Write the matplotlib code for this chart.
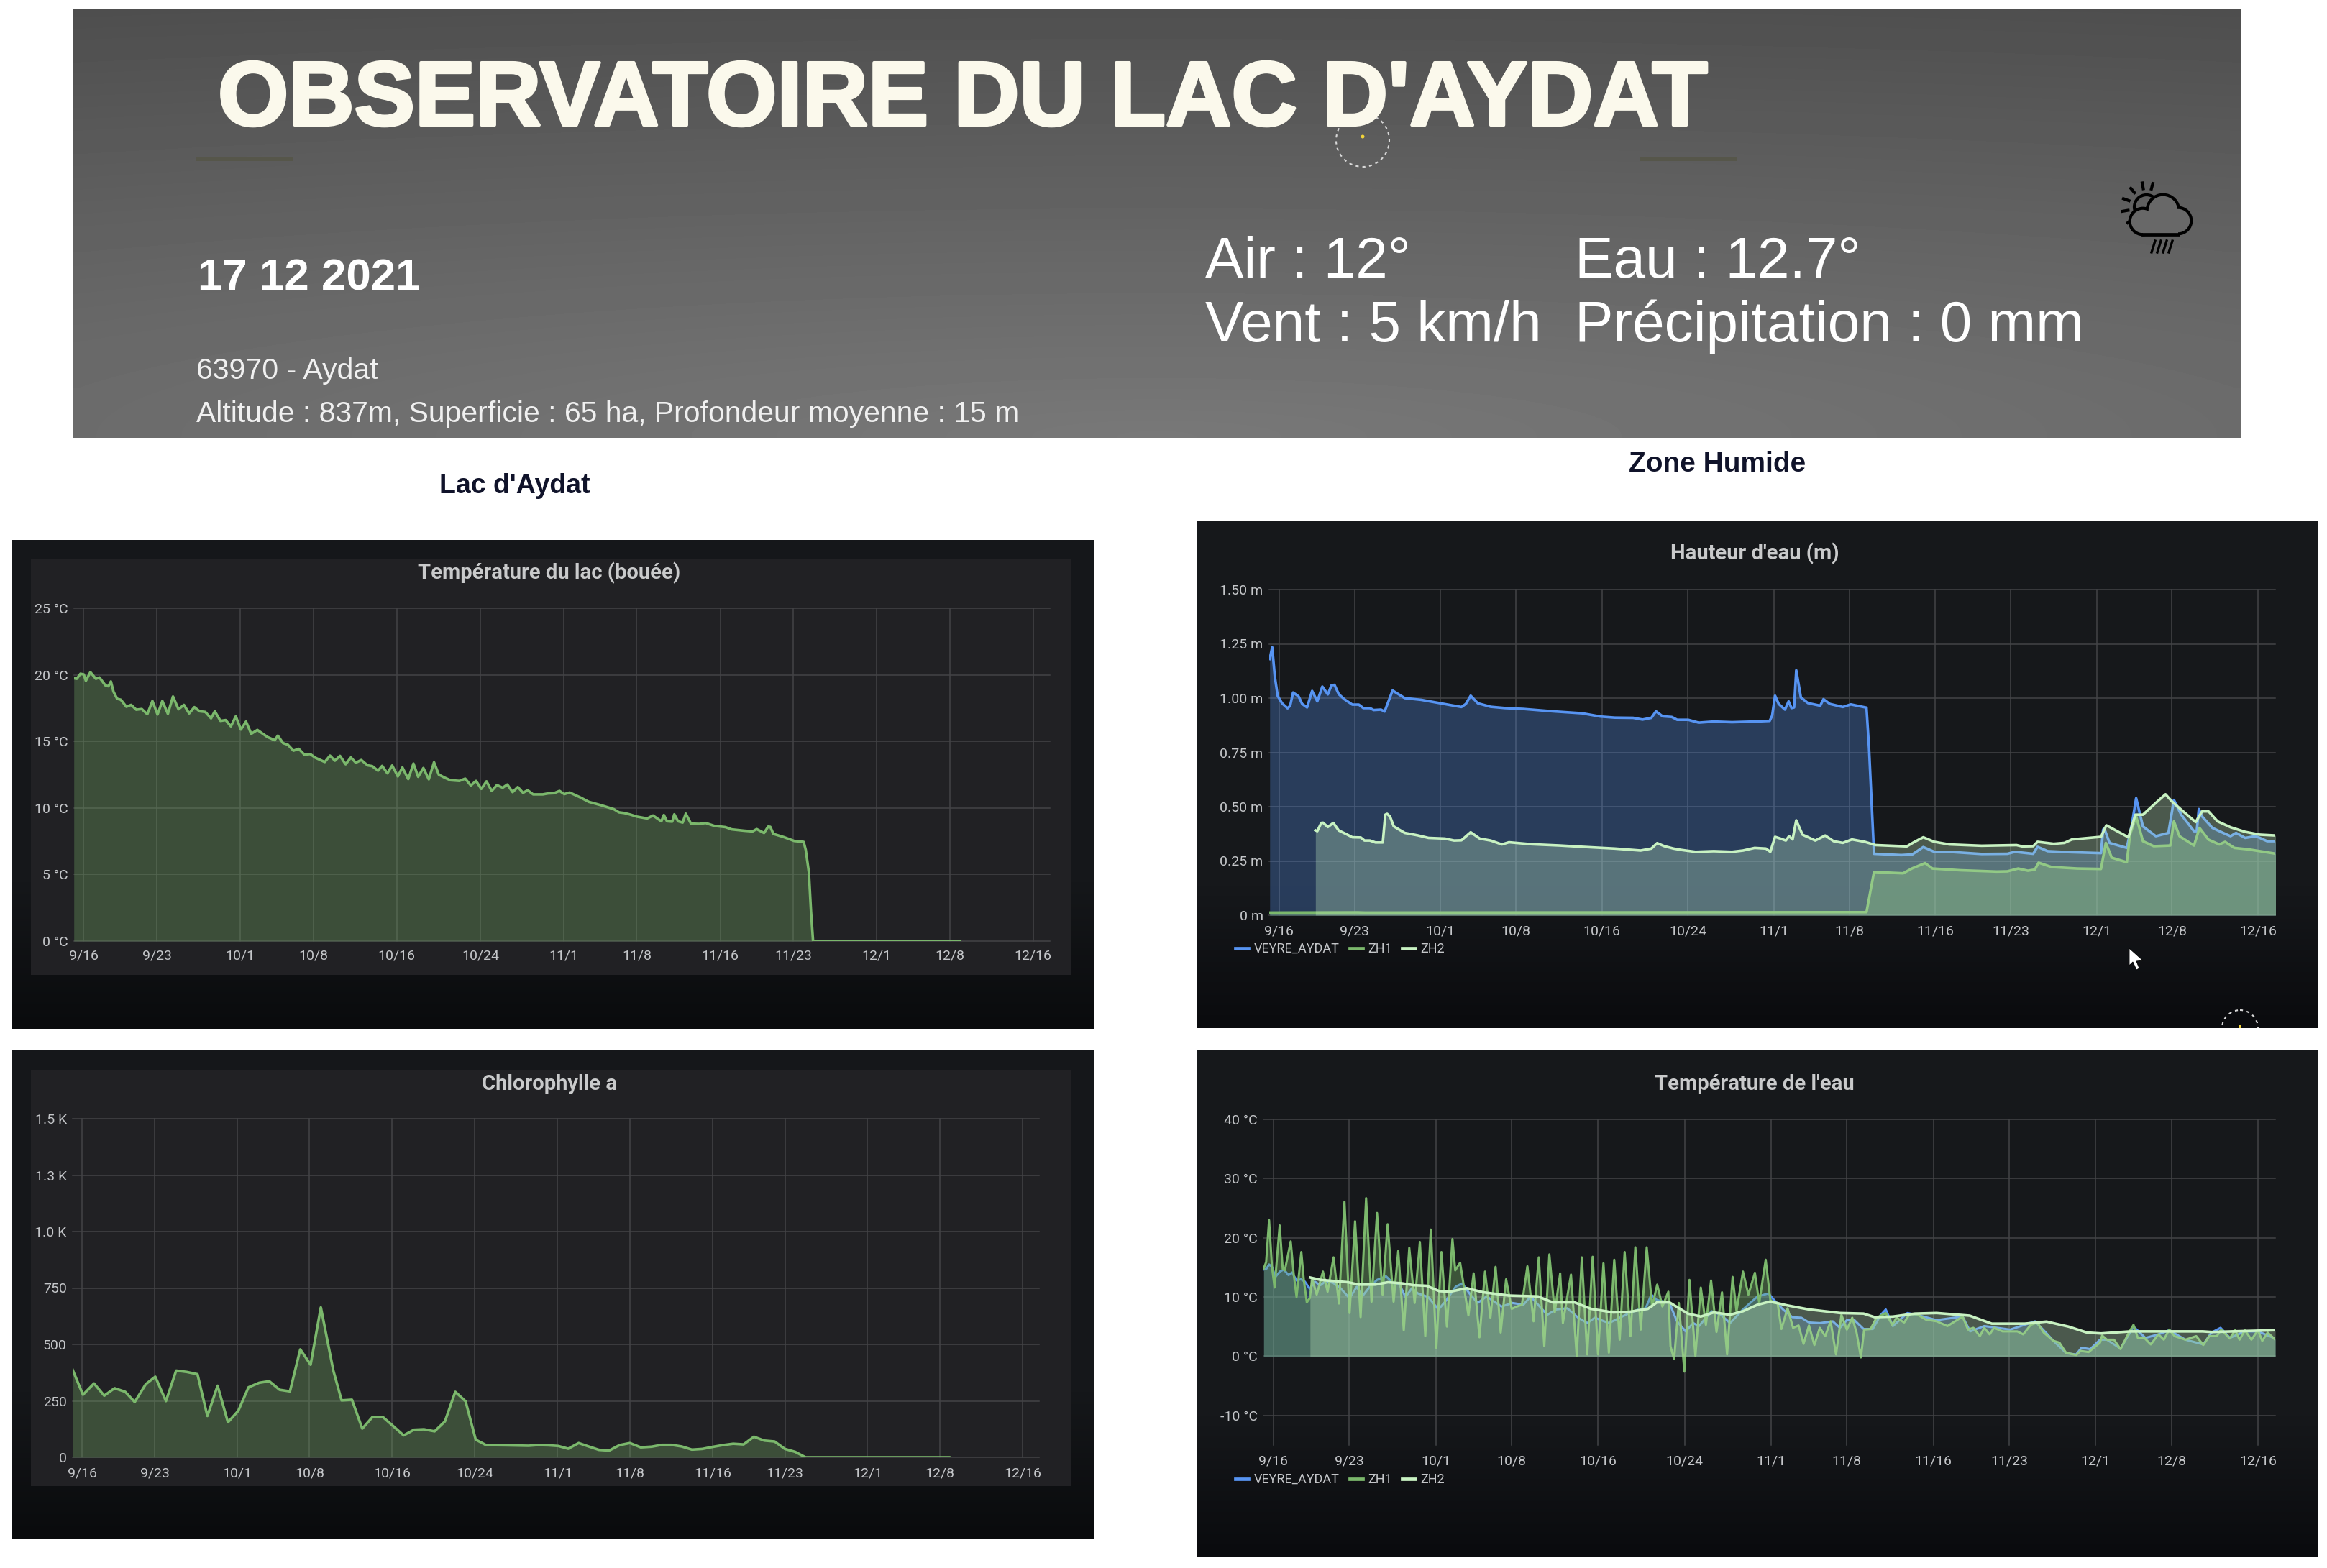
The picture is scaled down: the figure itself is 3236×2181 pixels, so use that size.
import numpy as np
import matplotlib
matplotlib.use("Agg")
import matplotlib.pyplot as plt
import matplotlib.patheffects as pe
from matplotlib.lines import Line2D
from matplotlib.patches import Circle, Polygon, Rectangle

W, H = 3236, 2181

BLUE = "#5794F2"
GREEN = "#7BB86C"
PALE = "#C8F2C2"
TICK = "#c4c6c9"
GRID = "#434447"

DATE_DAYS = [0, 7, 15, 22, 30, 38, 46, 53, 61, 68, 76, 83, 91]
DATE_LABELS = ["9/16", "9/23", "10/1", "10/8", "10/16", "10/24", "11/1", "11/8",
               "11/16", "11/23", "12/1", "12/8", "12/16"]

# days since 16 September
lake_days = [-0.95, -0.67, -0.32, 0, 0.2, 0.63, 1.16, 1.5, 2.08, 2.36, 2.6, 2.85, 3.2, 3.55, 4.08, 4.54,
             5.03, 5.56, 6.09, 6.58, 7.07, 7.53, 8.06, 8.55, 9.08, 9.6, 10.1, 10.6, 11.1, 11.65, 12.2,
             12.56, 13.1, 13.6, 14.1, 14.57, 15.06, 15.55, 16.05, 16.64, 17.6, 18.3, 18.6, 19.1, 19.56,
             20.1, 20.6, 21.15, 21.7, 22.2, 23.1, 23.6, 24.07, 24.56, 25.1, 25.6, 26.07, 26.6, 27.2,
             27.65, 28.2, 28.6, 29.1, 29.56, 30.1, 30.54, 31.1, 31.6, 32.05, 32.55, 33.07, 33.57, 34.03,
             34.6, 35.15, 36.0, 36.56, 37.1, 37.6, 38.1, 38.6, 39.1, 39.6, 40.15, 40.6, 41.1, 41.6, 42.1,
             42.55, 43.07, 44.0, 44.5, 45.07, 45.6, 46.06, 46.57, 47.57, 48.4, 49.6, 50.8, 51.3, 51.8,
             52.4, 53.0, 54.0, 54.56, 55, 55.36, 55.6, 55.9, 56.4, 56.6, 56.96, 57.4, 57.7, 58.2, 59,
             59.6, 60.45, 61.5, 62.1, 63.3, 64.1, 64.5, 65.2, 65.6, 65.8, 66.1, 67.1, 68.1, 69, 69.2,
             69.5, 69.7, 69.9, 84.0]
lake_temp = [19.74, 19.7, 20.08, 20.03, 19.55, 20.2, 19.7, 19.8, 19.2, 19.14, 19.5, 18.73, 18.2, 18.13, 17.6,
             17.74, 17.38, 17.43, 17.04, 18.03, 17.02, 18.03, 17.07, 18.37, 17.41, 17.74, 17.1, 17.57, 17.26,
             17.21, 16.73, 17.26, 16.54, 16.6, 16.13, 16.88, 15.89, 16.49, 15.57, 15.86, 15.33, 15.09, 15.43,
             14.87, 14.75, 14.3, 14.44, 14.0, 14.05, 13.77, 13.45, 13.93, 13.55, 13.91, 13.28, 13.79, 13.4,
             13.6, 13.2, 13.14, 12.8, 13.16, 12.6, 13.19, 12.37, 13.04, 12.17, 13.33, 12.34, 13.0, 12.15,
             13.43, 12.5, 12.27, 12.08, 12.03, 12.2, 11.69, 12.03, 11.43, 12.0, 11.28, 11.72, 11.52, 11.76,
             11.19, 11.57, 11.14, 11.33, 11.02, 11.02, 11.09, 11.11, 11.28, 11.04, 11.16, 10.8, 10.46, 10.2,
             9.91, 9.67, 9.62, 9.5, 9.35, 9.21, 9.43, 9.19, 9.0, 9.47, 9.0, 8.97, 9.52, 9.0, 8.9, 9.57, 8.82,
             8.8, 8.87, 8.65, 8.56, 8.39, 8.29, 8.24, 8.41, 8.12, 8.6, 8.58, 8.05, 7.81, 7.52, 7.45, 6.85,
             5.16, 2.27, 0, 0]

chl_days = [-0.96, 0.07, 1.14, 2.13, 3.13, 4.16, 5.08, 6.15, 7.07, 8.1, 9.09, 10.12, 11.15, 12.11, 13.1, 14.1,
            15.1, 16.09, 17.12, 18.1, 19.1, 20.1, 21.1, 22.1, 23.09, 24.3, 25.1, 26.1, 27.1, 28.1, 29.1, 30.1,
            31.1, 32.1, 33.07, 34.1, 35.1, 36.1, 37.1, 38.08, 39.08, 41, 43.2, 44.05, 45.1, 46.07, 47.03, 48.04,
            49, 50, 51, 52, 53, 54.05, 55.1, 56.07, 57, 58, 59, 60, 61, 62, 63, 64, 65, 66, 67, 68, 69, 70, 83.9]
chl_vals = [391, 277, 327, 273, 306, 290, 245, 324, 357, 249, 384, 378, 368, 183, 317, 155, 206, 310, 330, 337,
            299, 292, 478, 410, 664, 384, 252, 255, 127, 179, 178, 138, 97, 122, 124, 115, 159, 290, 248, 78, 54,
            53, 51, 54, 53, 50, 38, 63, 48, 33, 30, 54, 63, 44, 47, 55, 55, 48, 34, 37, 46, 54, 60, 57, 91, 74,
            70, 37, 24, 0, 0]

level_veyre_days = [-0.88, -0.65, -0.41, -0.14, 0.27, 0.78, 1.02, 1.29, 1.8, 2.14, 2.59, 3.06, 3.54, 4.01, 4.52,
                    4.86, 5.14, 5.54, 6.05, 6.8, 7.4, 7.82, 8.43, 8.78, 9.46, 9.8, 10.54, 11.67, 13.2, 14.56,
                    15.9, 16.94, 17.35, 17.8, 18.47, 19.66, 21.0, 22.7, 25.44, 28.16, 29.86, 31.2, 32.9, 33.78,
                    34.6, 35.03, 35.65, 36.5, 37, 38.03, 39, 40.4, 42.1, 44.15, 45.6, 45.83, 46.1, 46.44, 47.02,
                    47.36, 47.63, 47.87, 48.07, 48.5, 49.16, 50.3, 50.6, 51.2, 52.4, 53.14, 54.6, 54.84, 55.3,
                    57.83, 58.86, 59.88, 60.9, 62.6, 65.3, 67.7, 68.4, 70.1, 70.5, 71.44, 73.15, 76.4, 76.6, 76.7,
                    77.2, 78.8, 79.27, 79.67, 80.3, 81.5, 82.67, 83.18, 83.86, 85.05, 85.3, 85.5, 85.8, 86.76,
                    87.76, 88.45, 88.96, 89.8, 90.8, 91.85, 92.7]
level_veyre = [1.18, 1.234, 1.10, 1.01, 0.976, 0.953, 0.965, 1.026, 1.008, 0.973, 0.957, 1.033, 0.985, 1.053, 1.017,
               1.059, 1.061, 1.018, 0.995, 0.97, 0.97, 0.954, 0.954, 0.945, 0.947, 0.938, 1.035, 1.0, 0.992, 0.98,
               0.968, 0.959, 0.973, 1.011, 0.976, 0.96, 0.954, 0.95, 0.939, 0.93, 0.915, 0.91, 0.909, 0.901, 0.909,
               0.939, 0.916, 0.913, 0.9, 0.9, 0.887, 0.892, 0.889, 0.892, 0.895, 0.919, 1.011, 0.973, 0.947, 0.985,
               0.954, 0.957, 1.128, 1.003, 0.977, 0.965, 0.995, 0.973, 0.959, 0.971, 0.956, 0.767, 0.283, 0.277,
               0.28, 0.314, 0.292, 0.291, 0.282, 0.283, 0.292, 0.283, 0.315, 0.295, 0.291, 0.286, 0.394, 0.40,
               0.333, 0.31, 0.417, 0.539, 0.409, 0.364, 0.379, 0.531, 0.463, 0.387, 0.387, 0.489, 0.455, 0.402,
               0.379, 0.364, 0.379, 0.356, 0.364, 0.341, 0.341]

level_zh1_days = [-0.88, 7.3, 8.0, 54.6, 55.3, 58, 58.86, 60.05, 60.73, 63.3, 66.7, 67.7, 68.7, 69.6, 70.25, 70.6,
                  71.8, 74.2, 76.4, 76.85, 77.4, 78.8, 79.1, 79.67, 80.3, 81.3, 82.85, 83.18, 83.7, 85.05, 85.56,
                  86.4, 87.4, 87.94, 88.8, 90.15, 92.7]
level_zh1 = [0.012, 0.013, 0.012, 0.014, 0.199, 0.193, 0.216, 0.24, 0.215, 0.207, 0.201, 0.202, 0.215, 0.205, 0.21,
             0.242, 0.222, 0.215, 0.213, 0.333, 0.265, 0.244, 0.371, 0.455, 0.341, 0.318, 0.321, 0.432, 0.364,
             0.321, 0.402, 0.348, 0.326, 0.338, 0.31, 0.303, 0.283]

level_zh2_days = [3.37, 3.54, 3.91, 4.08, 4.52, 5.03, 5.54, 6.22, 6.8, 7.58, 7.93, 8.43, 8.95, 9.63, 9.86, 10.03,
                  10.3, 10.65, 11.67, 12.86, 13.88, 15.4, 16.26, 16.94, 17.8, 18.64, 19.66, 20.7, 21.36, 23.4,
                  26.1, 28.16, 31.2, 33.6, 34.6, 35.14, 35.8, 36.66, 37.35, 38.7, 40.4, 42.1, 43.13, 44.2, 45.25,
                  45.66, 46.1, 46.6, 47.1, 47.4, 47.73, 48.07, 48.65, 49.84, 50.76, 51.54, 52.4, 53.25, 54.44,
                  55.45, 58.35, 59, 59.88, 60.9, 62.3, 65.3, 68.55, 69.07, 70.1, 70.5, 72, 73, 73.7, 76.4, 76.9,
                  78.95, 79.6, 80.3, 81.65, 82.4, 83, 83.86, 85.2, 85.8, 86.4, 87.25, 88.45, 89.8, 91.17, 92.7]
level_zh2 = [0.391, 0.387, 0.425, 0.426, 0.406, 0.425, 0.39, 0.374, 0.359, 0.358, 0.344, 0.344, 0.335, 0.335, 0.463,
             0.467, 0.455, 0.409, 0.379, 0.368, 0.356, 0.353, 0.344, 0.345, 0.382, 0.353, 0.344, 0.326, 0.336, 0.327,
             0.321, 0.315, 0.307, 0.298, 0.307, 0.332, 0.318, 0.307, 0.301, 0.292, 0.295, 0.292, 0.298, 0.31, 0.307,
             0.292, 0.361, 0.353, 0.344, 0.364, 0.349, 0.437, 0.371, 0.344, 0.367, 0.341, 0.333, 0.349, 0.338, 0.323,
             0.317, 0.336, 0.359, 0.338, 0.326, 0.32, 0.323, 0.317, 0.318, 0.338, 0.329, 0.333, 0.349, 0.361, 0.414,
             0.359, 0.463, 0.463, 0.524, 0.557, 0.524, 0.486, 0.429, 0.478, 0.478, 0.432, 0.405, 0.384, 0.371, 0.367]

water_veyre_days = [-0.91, -0.64, -0.41, -0.14, 0.17, 0.6, 0.95, 1.39, 1.72, 2.13, 2.54, 2.9, 3.35, 3.82, 4.33, 4.84,
                    5.51, 6.19, 7.03, 7.7, 8.2, 8.9, 9.57, 10.4, 11.1, 11.6, 12.2, 12.8, 13.36, 14.3, 15.25, 16,
                    16.33, 16.84, 17.45, 18.2, 18.87, 19.7, 21.07, 22.1, 23.1, 23.77, 25.3, 26.14, 27.16, 28.17, 29,
                    29.7, 31, 32.9, 33.75, 34.4, 34.93, 35.44, 36.6, 37.3, 38.1, 38.8, 39.33, 40.5, 41.36, 42.2, 43.4,
                    44.74, 45.76, 46.27, 47.1, 47.96, 48.8, 49.5, 50.5, 51.7, 52.36, 53, 53.7, 54.55, 55.4, 56.1, 56.6,
                    57.26, 58.6, 59.46, 61.3, 63.7, 64.4, 65.7, 68.1, 70.4, 71.5, 72.1, 73.3, 74.2, 74.7, 75.5, 76.4,
                    77.04, 78.3, 79.5, 80.6, 81.8, 82.8, 84.3, 85.95, 86.7, 87.55, 88.4, 89.8, 91, 92.6]
water_veyre = [14.65, 14.8, 15.5, 15.1, 13.4, 14.3, 14.65, 13.7, 14.15, 12.8, 13.0, 12.6, 11.4, 12.6, 12.0, 12.7, 12.4,
               11.5, 9.8, 11.75, 10.1, 11.75, 12.9, 13.5, 12.3, 12.3, 10.0, 11.5, 10.6, 10, 7.9, 9.5, 10.4, 11.75, 12.3,
               10.4, 9.0, 10.1, 8.4, 9.0, 8.7, 10.1, 7.0, 7.9, 8.1, 6.5, 5.6, 6.5, 5.6, 7.3, 7.9, 8.1, 10.4, 9.5, 9.0,
               5.9, 4.2, 5.6, 5.1, 7.6, 7.0, 5.6, 7.9, 10.1, 10.6, 9.5, 7.9, 6.6, 6.5, 5.7, 5.6, 5.9, 4.8, 6.1, 6.1, 4.6,
               4.6, 6.9, 7.9, 5.1, 7.3, 7.0, 6.1, 6.7, 4.2, 5.1, 4.5, 5.9, 3.8, 2.6, 0.5, 0.3, 1.45, 1.2, 2.8, 2.8, 1.3,
               5.0, 3.1, 3.7, 4.4, 2.8, 2.0, 4.0, 4.8, 3.1, 4.2, 4.2, 3.0]

water_zh1_days = [-0.91, -0.68, -0.41, -0.14, 0.1, 0.57, 0.85, 1.05, 1.59, 1.86, 2.13, 2.57, 2.8, 3.08, 3.35, 3.58, 3.99,
                  4.57, 5.0, 5.55, 6.05, 6.56, 7.03, 7.54, 8.05, 8.56, 9.06, 9.57, 10.08, 10.55, 11.1, 11.53, 12.04,
                  12.55, 13.05, 13.53, 14.03, 14.54, 15.05, 15.52, 16.03, 16.54, 16.8, 17.25, 18.02, 18.5, 19.04, 19.55,
                  20.05, 20.53, 21.0, 21.5, 22.02, 22.5, 22.96, 23.47, 24.04, 24.52, 25.03, 25.5, 26.0, 26.5, 26.75,
                  27.5, 28.03, 28.5, 29.0, 29.5, 30, 30.5, 31, 31.5, 32, 32.46, 33, 33.45, 33.95, 34.5, 35, 35.47, 35.95,
                  36.5, 36.7, 37.03, 37.47, 37.98, 38.45, 39, 39.5, 39.97, 40.45, 40.95, 41.46, 41.93, 42.44, 42.8, 43.4,
                  43.9, 44.5, 44.9, 45.5, 45.93, 46.27, 46.6, 46.95, 47.52, 48.03, 48.54, 49, 49.5, 50, 50.5, 51, 51.5,
                  52, 52.5, 53, 53.5, 53.9, 54.3, 54.6, 55.2, 55.74, 56.6, 57.2, 57.6, 58.3, 58.8, 59.46, 60.3, 61.3,
                  62.3, 63.7, 64.2, 64.7, 65.3, 65.7, 66.2, 66.6, 67.4, 68.76, 69.3, 70, 70.6, 71.2, 72.1, 72.65, 73.26,
                  74.2, 74.6, 75.35, 76.4, 76.6, 77.04, 77.7, 78.3, 79.07, 79.5, 79.9, 80.5, 81.1, 81.8, 82.3, 82.8, 83.3,
                  84.3, 85.3, 85.95, 86.5, 87.2, 87.6, 88.4, 88.9, 89.3, 89.8, 90.4, 91, 91.4, 91.9, 92.6]
water_zh1 = [14.8, 15.9, 23.0, 15.1, 11.6, 22.1, 14.8, 14.5, 19.4, 14.0, 10.0, 17.6, 12.9, 9.1, 9.8, 13.1, 10.4, 14.3, 10.9,
             16.7, 8.9, 26.1, 7.3, 22.8, 6.6, 26.7, 9.2, 24.2, 10.4, 22.3, 9.2, 17.8, 4.4, 18.3, 9.0, 19.3, 3.4, 21.4, 1.4,
             17.6, 5.0, 19.8, 14.5, 15.8, 6.9, 14.0, 3.2, 14.3, 6.5, 15.1, 4.0, 13.0, 8.0, 8.4, 8.7, 15.2, 5.9, 16.7, 1.7,
             17.2, 7.4, 14.0, 5.6, 13.8, 0.06, 16.7, 0.3, 16.8, 0.3, 15.7, 0.6, 16.3, 2.8, 17.6, 3.4, 18.4, 4.5, 18.4, 8.4,
             12.1, 8.4, 10.9, 1.7, -0.5, 9.0, -2.6, 12.9, 0.06, 11.6, 5.3, 12.8, 4.1, 10.8, 0.3, 13.4, 7.6, 14.3, 10.4, 14.1,
             9.0, 16.3, 9.5, 9.0, 9.0, 4.6, 8.1, 4.8, 5.2, 2.1, 5.2, 1.9, 4.8, 3.4, 5.9, 0.3, 7.0, 4.5, 6.5, 4.0, -0.2, 4.5,
             4.6, 6.5, 7.3, 5.3, 6.5, 5.7, 7.1, 7.1, 6.2, 5.9, 5.1, 6.7, 4.5, 4.8, 3.4, 4.8, 3.7, 4.8, 4.2, 4.2, 3.7, 5.3,
             5.7, 4.0, 2.6, 2.3, 0.6, 0.2, 0.9, 0.7, 2.3, 3.5, 2.8, 2.8, 1.2, 4.0, 5.3, 3.1, 3.1, 2.0, 3.7, 2.8, 4.5, 3.4, 2.8,
             3.4, 1.9, 3.4, 3.4, 4.5, 3.0, 4.4, 2.8, 4.4, 2.8, 4.4, 2.6, 4.0, 2.8]

water_zh2_days = [3.38, 4.33, 6.87, 7.88, 9.4, 10.58, 11.94, 12.95, 14.14, 15.32, 16.33, 17.86, 19.38, 21.75, 24.45, 25.8,
                  27.83, 29.35, 31.4, 32.9, 34.6, 35.44, 36.6, 38.3, 39.5, 40.7, 42.2, 43.4, 44.74, 45.93, 47.45, 49.5,
                  52.36, 54.55, 55.57, 57.26, 59.3, 61.3, 64.36, 66.4, 69.44, 71.46, 73.5, 75.2, 76.5, 79.24, 81.6, 85.9,
                  86.7, 92.6]
water_zh2 = [13.3, 12.9, 12.5, 12.1, 12.1, 12.5, 12.3, 12.0, 11.9, 11.0, 10.9, 11.5, 10.8, 10.25, 10.1, 9.1, 9.1, 8.0, 7.4,
             7.5, 8.0, 9.1, 9.1, 7.2, 6.7, 7.4, 7.0, 7.6, 8.7, 9.25, 8.6, 7.9, 7.3, 7.2, 6.6, 6.7, 7.2, 7.3, 6.85, 5.5, 5.5,
             5.85, 5.0, 4.0, 3.85, 4.2, 4.2, 4.2, 4.1, 4.4]

plt.rcParams["font.family"] = ["Roboto", "DejaVu Sans"]
fig = plt.figure(figsize=(W / 100, H / 100), dpi=100, facecolor="white")

# page layer in pixel coordinates
bg = fig.add_axes([0, 0, 1, 1], zorder=0)
bg.set_axis_off()


def gradient(x0, y0, x1, y1, img):
    bg.imshow(img, extent=(x0, x1, y1, y0), aspect="auto", interpolation="bilinear",
              cmap="gray", vmin=0, vmax=255, zorder=1)


def panel(x0, y0, x1, y1, top, bottom, start):
    # flat colour down to start (0-1), then fade to the bottom colour
    t = np.clip((np.linspace(0, 1, 200) - start) / (1 - start), 0, 1)
    col = np.array(top)[None, :] * (1 - t[:, None]) + np.array(bottom)[None, :] * t[:, None]
    bg.imshow(col[:, None, :] / 255, extent=(x0, x1, y1, y0), aspect="auto", zorder=1)


yy, xx = np.mgrid[0:1:120j, 0:1:240j]
gradient(101, 12, 3116, 609, 120 - 40 * np.sqrt(0.4 * (xx - 0.5) ** 2 + (1 - yy) ** 2))

panel(16, 751, 1521, 1431, (21, 23, 26), (10, 11, 13), 0.7)
panel(16, 1461, 1521, 2140, (21, 23, 26), (10, 11, 13), 0.7)
panel(1664, 724, 3224, 1430, (22, 24, 27), (10, 11, 14), 0.72)
panel(1664, 1461, 3224, 2166, (22, 24, 27), (10, 11, 14), 0.72)
for y0, y1 in [(777, 1356), (1488, 2067)]:
    bg.add_patch(Rectangle((43, y0), 1446, y1 - y0, color="#212124", lw=0, zorder=2))

# accent dashes under the title
bg.add_patch(Rectangle((272, 218), 136, 6, color="#56564a", lw=0, zorder=3))
bg.add_patch(Rectangle((2281, 218), 134, 6, color="#56564a", lw=0, zorder=3))

# loading spinners
bg.add_patch(Circle((1895, 195), 37, fill=False, ec="#d8d8d8", lw=1.5, ls=(0, (2, 2.5)), zorder=3))
bg.add_patch(Circle((1895, 190), 2.5, color="#f2d43a", lw=0, zorder=4))
spin = Circle((3115, 1430), 25, fill=False, ec="#d8d8d8", lw=1.5, ls=(0, (2, 2.5)), zorder=3)
bg.add_patch(spin)
spin.set_clip_path(Rectangle((1664, 724), 1560, 706, transform=bg.transData))
bg.add_patch(Rectangle((3113, 1426), 4, 4, color="#f2d43a", lw=0, zorder=4))

# weather icon
ICON_GREY = "#686868"
bg.add_patch(Circle((2985, 288), 17, fill=False, ec="black", lw=3, zorder=4))
for a in np.radians([100, 130, 160, 190, 220, 75]):
    bg.plot([2985 + 26 * np.cos(a), 2985 + 34 * np.cos(a)], [288 - 26 * np.sin(a), 288 - 34 * np.sin(a)],
            color="black", lw=3, zorder=4)
lobes = [((2980, 308), 18), ((3008, 293), 22), ((3029, 307), 18)]
for c, r in lobes:
    bg.add_patch(Circle(c, r, fc=ICON_GREY, ec="black", lw=3.4, zorder=5))
bg.add_patch(Rectangle((2980, 296), 49, 30, fc=ICON_GREY, lw=0, zorder=6))
for c, r in lobes:
    bg.add_patch(Circle(c, r - 1.8, fc=ICON_GREY, lw=0, zorder=6))
bg.plot([2980, 3029], [326, 326], color="black", lw=3.4, zorder=7)
for x in [2997, 3005, 3013, 3021]:
    bg.plot([x, x - 5], [335, 351], color="black", lw=2.4, zorder=7)

# mouse pointer
bg.add_patch(Polygon([(2961, 1319), (2961, 1343), (2966, 1338), (2971, 1349), (2975, 1347), (2971, 1337), (2980, 1336)],
                     fc="white", ec="black", lw=0.6, zorder=8))

bg.set_xlim(0, W)
bg.set_ylim(H, 0)

BANNER_FONT = ["Liberation Sans", "DejaVu Sans"]
bg.text(303, 174, "OBSERVATOIRE DU LAC D'AYDAT", family=BANNER_FONT, weight="bold", color="#FBF9EC",
        fontsize=91, va="baseline", zorder=5,
        path_effects=[pe.withStroke(linewidth=3, foreground="#FBF9EC")])
bg.text(275, 403, "17 12 2021", family=BANNER_FONT, weight="bold", color="white", fontsize=44.6, va="baseline", zorder=5)
bg.text(273, 527, "63970 - Aydat", family=BANNER_FONT, color="#f0f0f0", fontsize=29.5, va="baseline", zorder=5)
bg.text(273, 587, "Altitude : 837m, Superficie : 65 ha, Profondeur moyenne : 15 m", family=BANNER_FONT,
        color="#f0f0f0", fontsize=29.4, va="baseline", zorder=5)
for x, y, s in [(1676, 386, "Air : 12°"), (2190, 386, "Eau : 12.7°"),
                (1676, 475, "Vent : 5 km/h"), (2190, 475, "Précipitation : 0 mm")]:
    bg.text(x, y, s, family=BANNER_FONT, color="white", fontsize=57.7, va="baseline", zorder=5)
bg.text(716, 676, "Lac d'Aydat", family=BANNER_FONT, weight="bold", color="#10132a", fontsize=27,
        ha="center", va="center", zorder=5)
bg.text(2388, 646, "Zone Humide", family=BANNER_FONT, weight="bold", color="#10132a", fontsize=28,
        ha="center", va="center", zorder=5)

for x, y, s in [(764, 797, "Température du lac (bouée)"), (764, 1508, "Chlorophylle a"),
                (2440, 770, "Hauteur d'eau (m)"), (2440, 1508, "Température de l'eau")]:
    bg.text(x, y, s, color="#c9cacb", fontsize=21, weight="bold", ha="center", va="center", zorder=5)


def make_axes(left, top, right, bottom, ylim, yticks, ylabels, xpad=8):
    ax = fig.add_axes([left / W, 1 - bottom / H, (right - left) / W, (bottom - top) / H], zorder=2)
    ax.patch.set_alpha(0)
    ax.set_xlim(-0.93, 92.6)
    ax.set_ylim(*ylim)
    ax.set_xticks(DATE_DAYS, DATE_LABELS)
    ax.set_yticks(yticks, ylabels)
    ax.tick_params(length=0, labelsize=14, colors=TICK, pad=6)
    ax.tick_params(axis="x", pad=xpad)
    ax.grid(True, color=GRID, lw=1.1)
    ax.set_axisbelow(True)
    for gl in ax.get_xgridlines() + ax.get_ygridlines():
        gl.set_clip_on(False)
    for sp in ax.spines.values():
        sp.set_visible(False)
    return ax


def draw_series(ax, days, vals, color, alpha=0.3, lw=2.6):
    # same zorder: a later series' fill washes over the earlier lines
    ax.fill_between(days, vals, 0, color=color, alpha=alpha, lw=0, zorder=2)
    ax.plot(days, vals, color=color, lw=lw, solid_joinstyle="round", zorder=2)


def add_legend(ax, y_px):
    handles = [Line2D([], [], color=c, lw=3.4) for c in (BLUE, GREEN, PALE)]
    ax.legend(handles, ["VEYRE_AYDAT", "ZH1", "ZH2"], ncol=3, frameon=False, fontsize=13, labelcolor=TICK,
              loc="center left", bbox_to_anchor=(1718 / W, 1 - y_px / H), bbox_transform=fig.transFigure,
              handlelength=1.0, handletextpad=0.4, columnspacing=0.8, borderpad=0, borderaxespad=0)


ax1 = make_axes(103, 846, 1460, 1309, (0, 25), [0, 5, 10, 15, 20, 25],
                ["0 °C", "5 °C", "10 °C", "15 °C", "20 °C", "25 °C"])
draw_series(ax1, lake_days, lake_temp, GREEN)

ax2 = make_axes(101, 1556, 1445, 2027, (0, 1500), [0, 250, 500, 750, 1000, 1250, 1500],
                ["0", "250", "500", "750", "1.0 K", "1.3 K", "1.5 K"], xpad=10)
draw_series(ax2, chl_days, chl_vals, GREEN)

ax3 = make_axes(1765, 820, 3164, 1273, (0, 1.5), [0, 0.25, 0.5, 0.75, 1.0, 1.25, 1.5],
                ["0 m", "0.25 m", "0.50 m", "0.75 m", "1.00 m", "1.25 m", "1.50 m"], xpad=9.5)
draw_series(ax3, level_veyre_days, level_veyre, BLUE)
draw_series(ax3, level_zh1_days, level_zh1, GREEN, alpha=0.38)
draw_series(ax3, level_zh2_days, level_zh2, PALE)
add_legend(ax3, 1320)

ax4 = make_axes(1757, 1557, 3164, 2010, (-15, 40), [-10, 0, 10, 20, 30, 40],
                ["-10 °C", "0 °C", "10 °C", "20 °C", "30 °C", "40 °C"], xpad=10)
draw_series(ax4, water_veyre_days, water_veyre, BLUE, lw=2.2)
draw_series(ax4, water_zh1_days, water_zh1, GREEN, alpha=0.38, lw=2.2)
draw_series(ax4, water_zh2_days, water_zh2, PALE, lw=2.6)
add_legend(ax4, 2058)

fig.savefig("out.png", dpi=100, facecolor="white")
